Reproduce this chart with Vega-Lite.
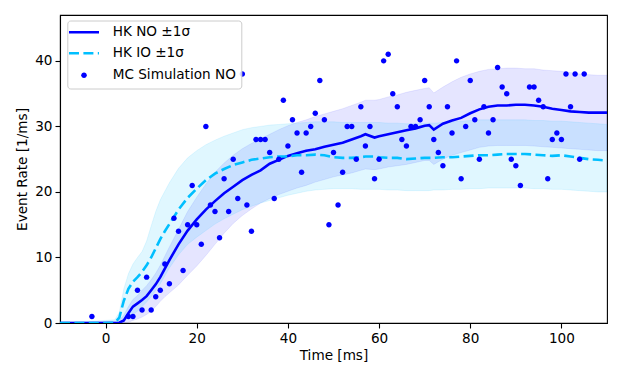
{
  "$schema": "https://vega.github.io/schema/vega-lite/v6.json",
  "width": 547,
  "height": 308,
  "autosize": {"type": "none"},
  "padding": {"left": 60, "top": 15, "right": 15, "bottom": 57},
  "config": {
    "font": "DejaVu Sans",
    "view": {"stroke": "black", "strokeWidth": 1.1},
    "axis": {
      "domainColor": "black", "domainWidth": 1.1,
      "tickColor": "black", "tickWidth": 1.1, "tickSize": 5,
      "labelColor": "black", "labelFontSize": 13.6, "labelFont": "DejaVu Sans",
      "titleColor": "black", "titleFontSize": 13.6, "titleFont": "DejaVu Sans", "titleFontWeight": "normal",
      "grid": false, "labelPadding": 3, "labelFlush": false, "labelOverlap": false
    },
    "legend": {
      "orient": "none", "legendX": 7.3, "legendY": 5.5,
      "fillColor": "rgba(255,255,255,0.85)", "strokeColor": "#cccccc", "cornerRadius": 3,
      "padding": 5, "rowPadding": 6, "labelOffset": 21.9, "symbolOffset": 4.9,
      "labelFont": "DejaVu Sans", "labelFontSize": 13.6, "labelColor": "black",
      "symbolSize": 100, "symbolStrokeWidth": 2.6, "symbolOpacity": 1
    }
  },
  "datasets": {
    "curves": [
      {"t": -10, "no": 0, "nlo": 0, "nhi": 0.15, "io": 0, "ilo": 0, "ihi": 0.15},
      {"t": -6, "no": 0, "nlo": 0, "nhi": 0.15, "io": 0, "ilo": 0, "ihi": 0.2},
      {"t": -2, "no": 0, "nlo": 0, "nhi": 0.2, "io": 0, "ilo": 0, "ihi": 0.3},
      {"t": 0, "no": 0, "nlo": 0, "nhi": 0.25, "io": 0, "ilo": 0, "ihi": 0.4},
      {"t": 2, "no": 0, "nlo": 0, "nhi": 0.3, "io": 0.05, "ilo": 0, "ihi": 0.5},
      {"t": 3, "no": 0.05, "nlo": 0, "nhi": 0.4, "io": 0.8, "ilo": 0, "ihi": 1.6},
      {"t": 4, "no": 0.4, "nlo": 0, "nhi": 1.2, "io": 3.4, "ilo": 0.3, "ihi": 5.2},
      {"t": 5, "no": 1.5, "nlo": 0.1, "nhi": 2.5, "io": 5.2, "ilo": 0.8, "ihi": 7.5},
      {"t": 6, "no": 2.5, "nlo": 0.4, "nhi": 3.6, "io": 6.3, "ilo": 1.3, "ihi": 9.0},
      {"t": 7, "no": 3.0, "nlo": 0.6, "nhi": 4.2, "io": 7.0, "ilo": 1.8, "ihi": 10.0},
      {"t": 8, "no": 3.5, "nlo": 0.9, "nhi": 5.0, "io": 7.8, "ilo": 2.5, "ihi": 10.9},
      {"t": 9, "no": 4.1, "nlo": 1.3, "nhi": 5.7, "io": 8.8, "ilo": 3.2, "ihi": 12.5},
      {"t": 10, "no": 5.0, "nlo": 1.8, "nhi": 6.6, "io": 10.0, "ilo": 4.0, "ihi": 14.8},
      {"t": 11, "no": 5.9, "nlo": 2.5, "nhi": 7.6, "io": 11.4, "ilo": 5.0, "ihi": 17.0},
      {"t": 12, "no": 7.0, "nlo": 3.3, "nhi": 8.8, "io": 12.8, "ilo": 6.0, "ihi": 18.8},
      {"t": 13, "no": 8.3, "nlo": 4.0, "nhi": 10.2, "io": 14.0, "ilo": 7.2, "ihi": 20.1},
      {"t": 14, "no": 9.6, "nlo": 4.6, "nhi": 11.6, "io": 15.1, "ilo": 8.4, "ihi": 21.4},
      {"t": 16, "no": 12.0, "nlo": 5.8, "nhi": 14.3, "io": 17.3, "ilo": 10.4, "ihi": 23.6},
      {"t": 18, "no": 14.1, "nlo": 7.3, "nhi": 17.0, "io": 19.1, "ilo": 12.0, "ihi": 25.2},
      {"t": 20, "no": 15.8, "nlo": 8.7, "nhi": 19.2, "io": 20.5, "ilo": 13.1, "ihi": 26.3},
      {"t": 22, "no": 17.3, "nlo": 10.3, "nhi": 21.2, "io": 21.8, "ilo": 14.1, "ihi": 27.2},
      {"t": 24, "no": 18.6, "nlo": 12.0, "nhi": 23.0, "io": 22.8, "ilo": 15.1, "ihi": 27.9},
      {"t": 26, "no": 19.8, "nlo": 13.7, "nhi": 24.4, "io": 23.5, "ilo": 15.9, "ihi": 28.5},
      {"t": 28, "no": 20.8, "nlo": 15.2, "nhi": 25.6, "io": 24.1, "ilo": 16.6, "ihi": 29.0},
      {"t": 30, "no": 21.8, "nlo": 16.4, "nhi": 26.6, "io": 24.5, "ilo": 17.3, "ihi": 29.5},
      {"t": 32, "no": 22.6, "nlo": 17.4, "nhi": 27.4, "io": 24.9, "ilo": 17.8, "ihi": 29.8},
      {"t": 34, "no": 23.3, "nlo": 18.3, "nhi": 28.1, "io": 25.1, "ilo": 18.3, "ihi": 30.0},
      {"t": 36, "no": 24.3, "nlo": 19.0, "nhi": 28.8, "io": 25.3, "ilo": 18.7, "ihi": 30.2},
      {"t": 38, "no": 24.9, "nlo": 19.6, "nhi": 29.5, "io": 25.4, "ilo": 19.1, "ihi": 30.3},
      {"t": 40, "no": 25.5, "nlo": 20.1, "nhi": 30.1, "io": 25.4, "ilo": 19.5, "ihi": 30.4},
      {"t": 42, "no": 25.9, "nlo": 20.6, "nhi": 30.6, "io": 25.6, "ilo": 19.8, "ihi": 30.5},
      {"t": 44, "no": 26.3, "nlo": 21.0, "nhi": 31.0, "io": 25.6, "ilo": 20.1, "ihi": 30.6},
      {"t": 46, "no": 26.5, "nlo": 21.5, "nhi": 31.5, "io": 25.7, "ilo": 20.3, "ihi": 30.7},
      {"t": 48, "no": 26.9, "nlo": 21.9, "nhi": 31.9, "io": 25.6, "ilo": 20.4, "ihi": 30.7},
      {"t": 50, "no": 27.2, "nlo": 22.3, "nhi": 32.3, "io": 25.3, "ilo": 20.5, "ihi": 30.7},
      {"t": 52, "no": 27.5, "nlo": 22.6, "nhi": 32.7, "io": 25.2, "ilo": 20.5, "ihi": 30.6},
      {"t": 54, "no": 28.0, "nlo": 22.9, "nhi": 33.2, "io": 25.2, "ilo": 20.5, "ihi": 30.6},
      {"t": 56, "no": 28.5, "nlo": 23.3, "nhi": 33.7, "io": 25.3, "ilo": 20.4, "ihi": 30.6},
      {"t": 57, "no": 28.8, "nlo": 23.5, "nhi": 34.0, "io": 25.4, "ilo": 20.4, "ihi": 30.6},
      {"t": 59, "no": 28.3, "nlo": 23.4, "nhi": 34.0, "io": 25.4, "ilo": 20.4, "ihi": 30.6},
      {"t": 60, "no": 28.5, "nlo": 23.5, "nhi": 34.1, "io": 25.3, "ilo": 20.4, "ihi": 30.6},
      {"t": 62, "no": 28.8, "nlo": 23.8, "nhi": 34.5, "io": 25.2, "ilo": 20.3, "ihi": 30.5},
      {"t": 64, "no": 29.1, "nlo": 24.0, "nhi": 34.8, "io": 25.2, "ilo": 20.3, "ihi": 30.5},
      {"t": 66, "no": 29.4, "nlo": 24.2, "nhi": 35.2, "io": 25.0, "ilo": 20.2, "ihi": 30.4},
      {"t": 68, "no": 29.7, "nlo": 24.5, "nhi": 35.5, "io": 25.1, "ilo": 20.2, "ihi": 30.4},
      {"t": 70, "no": 30.1, "nlo": 24.8, "nhi": 35.8, "io": 25.2, "ilo": 20.2, "ihi": 30.5},
      {"t": 71, "no": 30.2, "nlo": 24.8, "nhi": 35.9, "io": 25.2, "ilo": 20.2, "ihi": 30.5},
      {"t": 72, "no": 29.5, "nlo": 24.2, "nhi": 35.1, "io": 25.2, "ilo": 20.3, "ihi": 30.5},
      {"t": 74, "no": 30.4, "nlo": 25.0, "nhi": 36.0, "io": 25.3, "ilo": 20.3, "ihi": 30.6},
      {"t": 76, "no": 30.9, "nlo": 25.6, "nhi": 36.8, "io": 25.3, "ilo": 20.4, "ihi": 30.7},
      {"t": 78, "no": 31.3, "nlo": 26.0, "nhi": 37.5, "io": 25.4, "ilo": 20.4, "ihi": 30.8},
      {"t": 80, "no": 32.0, "nlo": 26.4, "nhi": 38.0, "io": 25.5, "ilo": 20.5, "ihi": 30.9},
      {"t": 82, "no": 32.6, "nlo": 26.8, "nhi": 38.4, "io": 25.6, "ilo": 20.5, "ihi": 31.0},
      {"t": 84, "no": 33.0, "nlo": 27.0, "nhi": 38.7, "io": 25.6, "ilo": 20.6, "ihi": 31.0},
      {"t": 86, "no": 33.2, "nlo": 27.1, "nhi": 38.8, "io": 25.7, "ilo": 20.6, "ihi": 31.0},
      {"t": 88, "no": 33.2, "nlo": 27.1, "nhi": 38.9, "io": 25.8, "ilo": 20.6, "ihi": 31.0},
      {"t": 90, "no": 33.3, "nlo": 27.1, "nhi": 38.9, "io": 25.8, "ilo": 20.6, "ihi": 31.0},
      {"t": 92, "no": 33.3, "nlo": 27.1, "nhi": 38.8, "io": 25.8, "ilo": 20.6, "ihi": 31.0},
      {"t": 94, "no": 33.2, "nlo": 27.0, "nhi": 38.8, "io": 25.7, "ilo": 20.5, "ihi": 30.9},
      {"t": 96, "no": 33.0, "nlo": 26.9, "nhi": 38.6, "io": 25.6, "ilo": 20.5, "ihi": 30.9},
      {"t": 98, "no": 32.7, "nlo": 26.8, "nhi": 38.5, "io": 25.5, "ilo": 20.4, "ihi": 30.8},
      {"t": 100, "no": 32.5, "nlo": 26.7, "nhi": 38.4, "io": 25.6, "ilo": 20.4, "ihi": 30.8},
      {"t": 102, "no": 32.3, "nlo": 26.6, "nhi": 38.2, "io": 25.4, "ilo": 20.3, "ihi": 30.7},
      {"t": 104, "no": 32.2, "nlo": 26.5, "nhi": 38.0, "io": 25.2, "ilo": 20.2, "ihi": 30.6},
      {"t": 106, "no": 32.1, "nlo": 26.4, "nhi": 37.9, "io": 25.0, "ilo": 20.1, "ihi": 30.5},
      {"t": 108, "no": 32.1, "nlo": 26.3, "nhi": 37.8, "io": 24.9, "ilo": 20.0, "ihi": 30.4},
      {"t": 110, "no": 32.1, "nlo": 26.3, "nhi": 37.8, "io": 24.8, "ilo": 20.0, "ihi": 30.3}
    ],
    "mc": [
      {"t": -3, "n": 1}, {"t": 5, "n": 1}, {"t": 6, "n": 1}, {"t": 7, "n": 5}, {"t": 8, "n": 2},
      {"t": 9, "n": 7}, {"t": 10, "n": 2}, {"t": 11, "n": 4}, {"t": 12, "n": 5}, {"t": 13, "n": 9},
      {"t": 14, "n": 6}, {"t": 15, "n": 16}, {"t": 16, "n": 14}, {"t": 17, "n": 8}, {"t": 18, "n": 15},
      {"t": 19, "n": 21}, {"t": 20, "n": 15}, {"t": 21, "n": 12}, {"t": 22, "n": 30}, {"t": 23, "n": 18},
      {"t": 24, "n": 17}, {"t": 25, "n": 13}, {"t": 26, "n": 22}, {"t": 27, "n": 17}, {"t": 28, "n": 25},
      {"t": 29, "n": 19}, {"t": 30, "n": 38}, {"t": 31, "n": 18}, {"t": 32, "n": 14}, {"t": 33, "n": 28},
      {"t": 34, "n": 28}, {"t": 35, "n": 28}, {"t": 36, "n": 26}, {"t": 37, "n": 19}, {"t": 38, "n": 25},
      {"t": 39, "n": 34}, {"t": 40, "n": 27}, {"t": 41, "n": 31}, {"t": 42, "n": 29}, {"t": 43, "n": 23},
      {"t": 44, "n": 29}, {"t": 45, "n": 30}, {"t": 46, "n": 32}, {"t": 47, "n": 37}, {"t": 48, "n": 31},
      {"t": 49, "n": 15}, {"t": 50, "n": 26}, {"t": 51, "n": 18}, {"t": 52, "n": 23}, {"t": 53, "n": 30},
      {"t": 54, "n": 30}, {"t": 55, "n": 25}, {"t": 56, "n": 33}, {"t": 57, "n": 27}, {"t": 58, "n": 30},
      {"t": 59, "n": 22}, {"t": 60, "n": 25}, {"t": 61, "n": 40}, {"t": 62, "n": 41}, {"t": 63, "n": 35},
      {"t": 64, "n": 33}, {"t": 65, "n": 28}, {"t": 66, "n": 27}, {"t": 67, "n": 30}, {"t": 68, "n": 30},
      {"t": 69, "n": 31}, {"t": 70, "n": 37}, {"t": 71, "n": 33}, {"t": 72, "n": 28}, {"t": 73, "n": 26},
      {"t": 74, "n": 24}, {"t": 75, "n": 33}, {"t": 76, "n": 29}, {"t": 77, "n": 40}, {"t": 78, "n": 22},
      {"t": 79, "n": 30}, {"t": 80, "n": 37}, {"t": 81, "n": 31}, {"t": 82, "n": 25}, {"t": 83, "n": 33},
      {"t": 84, "n": 29}, {"t": 85, "n": 31}, {"t": 86, "n": 39}, {"t": 87, "n": 36}, {"t": 88, "n": 35},
      {"t": 89, "n": 25}, {"t": 90, "n": 24}, {"t": 91, "n": 21}, {"t": 93, "n": 36}, {"t": 94, "n": 36},
      {"t": 95, "n": 34}, {"t": 96, "n": 33}, {"t": 97, "n": 22}, {"t": 98, "n": 28}, {"t": 99, "n": 29},
      {"t": 100, "n": 28}, {"t": 101, "n": 38}, {"t": 102, "n": 33}, {"t": 103, "n": 38}, {"t": 104, "n": 25},
      {"t": 105, "n": 38}
    ]
  },
  "encoding": {
    "x": {"field": "t", "type": "quantitative",
          "scale": {"domain": [-10, 110], "nice": false, "zero": false},
          "axis": {"values": [0, 20, 40, 60, 80, 100], "title": "Time [ms]", "titlePadding": 4}}
  },
  "layer": [
    {
      "data": {"name": "curves"},
      "mark": {"type": "area", "fill": "blue", "fillOpacity": 0.1, "stroke": "blue", "strokeOpacity": 0.08, "strokeWidth": 1, "clip": true},
      "encoding": {
        "y": {"field": "nlo", "type": "quantitative",
              "scale": {"domain": [0, 47], "nice": false},
              "axis": {"values": [0, 10, 20, 30, 40], "title": "Event Rate [1/ms]", "titlePadding": 5}},
        "y2": {"field": "nhi"}
      }
    },
    {
      "data": {"name": "curves"},
      "mark": {"type": "area", "fill": "#00bfff", "fillOpacity": 0.12, "stroke": "#00bfff", "strokeOpacity": 0.1, "strokeWidth": 1, "clip": true},
      "encoding": {
        "y": {"field": "ilo", "type": "quantitative"},
        "y2": {"field": "ihi"}
      }
    },
    {
      "data": {"name": "curves"},
      "mark": {"type": "line", "stroke": "blue", "strokeWidth": 2.6, "clip": true},
      "encoding": {"y": {"field": "no", "type": "quantitative"}}
    },
    {
      "data": {"name": "curves"},
      "mark": {"type": "line", "stroke": "#00bfff", "strokeWidth": 2.6, "strokeDash": [10, 4.4], "clip": true},
      "encoding": {"y": {"field": "io", "type": "quantitative"}}
    },
    {
      "data": {"name": "mc"},
      "mark": {"type": "point", "filled": true, "size": 96, "opacity": 1, "strokeWidth": 2.6, "clip": false},
      "encoding": {
        "y": {"field": "n", "type": "quantitative"},
        "fill": {
          "datum": "MC Simulation NO", "type": "nominal", "title": null,
          "scale": {"domain": ["HK NO ±1σ", "HK IO ±1σ", "MC Simulation NO"], "range": ["transparent", "transparent", "blue"]}
        },
        "stroke": {
          "datum": "MC Simulation NO", "type": "nominal", "title": null,
          "scale": {"domain": ["HK NO ±1σ", "HK IO ±1σ", "MC Simulation NO"], "range": ["blue", "#00bfff", "transparent"]}
        },
        "shape": {
          "datum": "MC Simulation NO", "type": "nominal", "title": null,
          "scale": {"domain": ["HK NO ±1σ", "HK IO ±1σ", "MC Simulation NO"], "range": ["M-3,0H3", "M-3,0H3", "M0.56,0A0.56,0.56,0,1,1,-0.56,0A0.56,0.56,0,1,1,0.56,0Z"]}
        },
        "strokeDash": {
          "datum": "MC Simulation NO", "type": "nominal", "title": null,
          "scale": {"domain": ["HK NO ±1σ", "HK IO ±1σ", "MC Simulation NO"], "range": [[1, 0], [10, 4.4], [1, 0]]}
        }
      }
    }
  ]
}
